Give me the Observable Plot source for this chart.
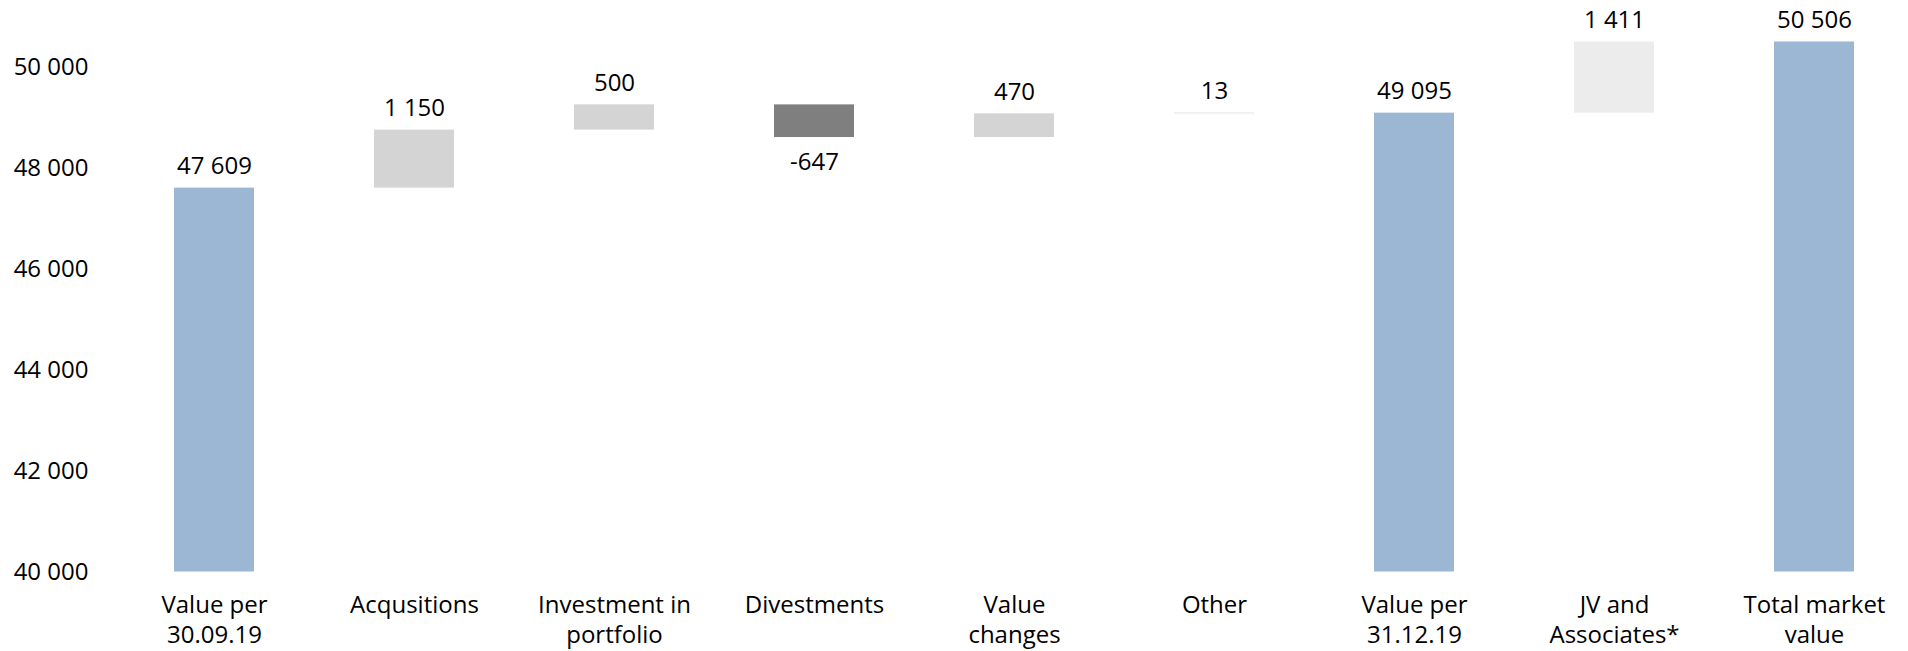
<!DOCTYPE html>
<html>
<head>
<meta charset="utf-8">
<script src="https://cdn.jsdelivr.net/npm/d3@7"></script>
<script src="https://cdn.jsdelivr.net/npm/@observablehq/plot@0.6"></script>
<style>
  html, body { margin: 0; padding: 0; background: #fff; }
  #chart svg { display: block; }
</style>
</head>
<body>
<div id="chart"></div>
<script>
// ---- data ----
const categories = [
  "Value per\n30.09.19",
  "Acqusitions",
  "Investment in\nportfolio",
  "Divestments",
  "Value\nchanges",
  "Other",
  "Value per\n31.12.19",
  "JV and\nAssociates*",
  "Total market\nvalue"
];
const values = [47609, 1150, 500, -647, 470, 13, 49095, 1411, 50506];
const kinds = ["total", "up", "up", "down", "up", "up", "total", "jv", "total"];
const yTicks = [40000, 42000, 44000, 46000, 48000, 50000];
const axisBase = 40000;

const kindColors = {total: "#9bb7d3", up: "#d4d4d4", down: "#7f7f7f", jv: "#ececec"};

// build waterfall table
let running = 0;
const rows = categories.map((c, i) => {
  const v = values[i];
  let y1, y2;
  if (kinds[i] === "total") {
    y1 = axisBase; y2 = v; running = v;
  } else {
    y1 = running; y2 = running + v; running = y2;
  }
  return {category: c, value: v, kind: kinds[i], lo: Math.min(y1, y2), hi: Math.max(y1, y2)};
});

const fmt = d => (d < 0 ? "-" : "") + String(Math.abs(d)).replace(/\B(?=(\d{3})+(?!\d))/g, " ");

const W = 1908, H = 651;
const chart = Plot.plot({
  width: W,
  height: H,
  marginLeft: 114,
  marginRight: 0,
  marginTop: 0,
  marginBottom: 79.5,
  style: {fontFamily: "'Open Sans', sans-serif", fontSize: "24px", color: "#000", background: "#fff", overflow: "visible"},
  x: {domain: categories, range: [114.3, 1914.3], paddingInner: 0.6, paddingOuter: 0.3, label: null},
  y: {domain: [40000, 50000], range: [571.5, 67], label: null},
  marks: [
    Plot.barY(rows, {x: "category", y1: "lo", y2: "hi", fill: d => kindColors[d.kind]}),
    Plot.text(rows.filter(d => d.value >= 0), {x: "category", y: "hi", text: d => fmt(d.value), dy: -22, fontSize: 24, fill: "#000"}),
    Plot.text(rows.filter(d => d.value < 0), {x: "category", y: "lo", text: d => fmt(d.value), dy: 25, fontSize: 24, fill: "#000"}),
    Plot.axisY({ticks: yTicks, tickSize: 0, tickPadding: 26, tickFormat: fmt, fontSize: 24, fill: "#000", label: null}),
    Plot.axisX({tickSize: 0, tickPadding: 19, fontSize: 24, lineHeight: 1.27, fill: "#000", label: null})
  ]
});
document.getElementById("chart").appendChild(chart);
</script>
</body>
</html>
